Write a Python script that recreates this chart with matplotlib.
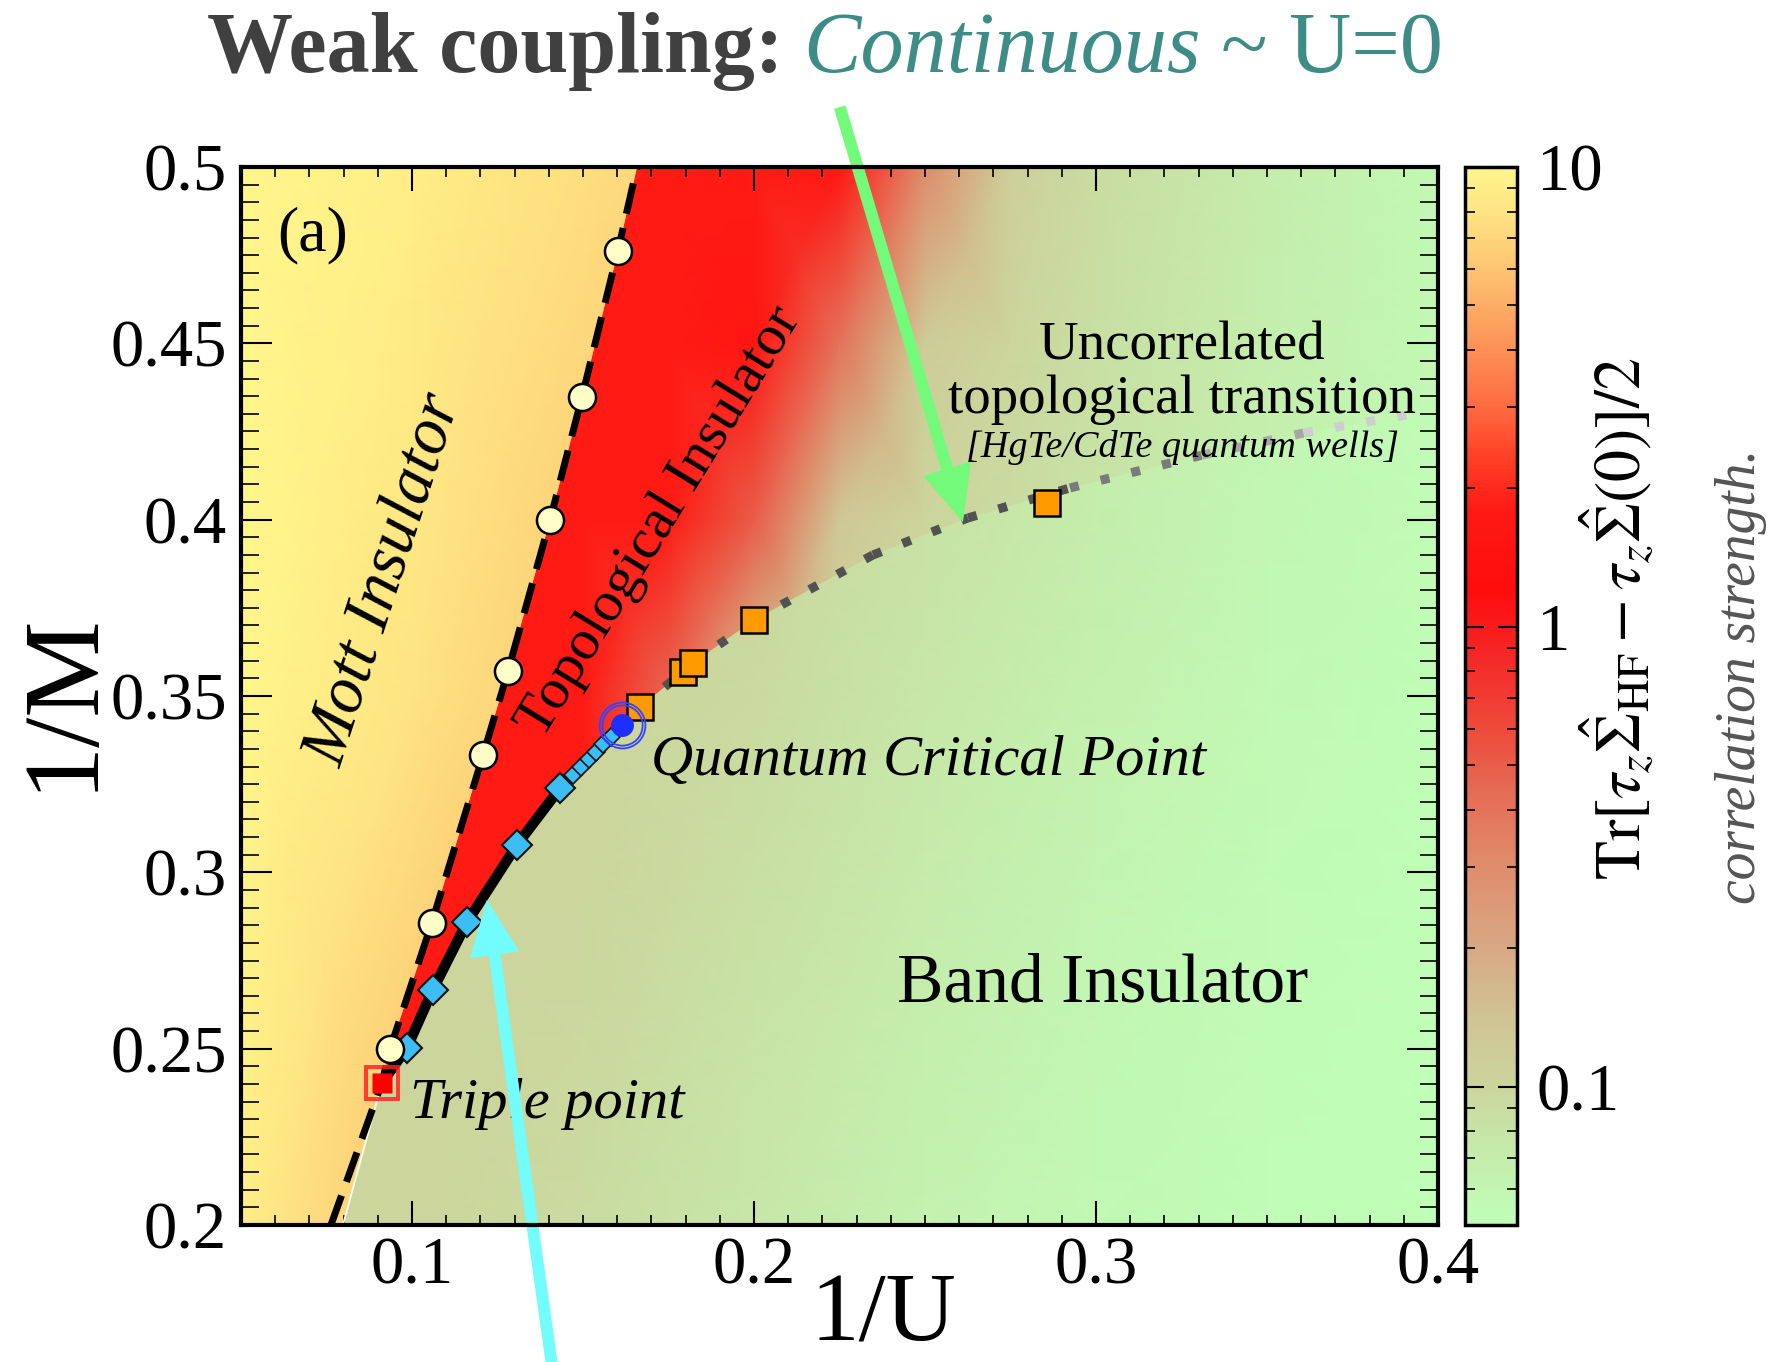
import numpy as np
import matplotlib.pyplot as plt
from matplotlib.colors import LinearSegmentedColormap, LogNorm
from matplotlib.patches import Polygon
from matplotlib.collections import LineCollection
from matplotlib.ticker import MultipleLocator, FuncFormatter
import matplotlib.cm as cm

plt.rcParams['font.family'] = ['Liberation Serif', 'DejaVu Serif']
plt.rcParams['mathtext.fontset'] = 'stix'

# colour scale of the correlation strength (value -> colour)
scale_vals = [0.05, 0.073, 0.1, 0.14, 0.2, 0.31, 0.45, 0.6, 0.86, 1.2, 1.8, 2.4, 3.0, 4.4, 6.0, 8.0, 10.0]
scale_cols = ['#C0FFB8', '#C6EAAA', '#CCD49C', '#D0C494', '#D8A884', '#E08A6A', '#E66852',
              '#EE4A3A', '#F42828', '#FF0C0C', '#FF1A14', '#FF4428', '#FE6A40', '#FC9C5C',
              '#FDC472', '#FEE482', '#FFF68C']

# correlation strength, band insulator side (whole plane)
bi_x = [0.05, 0.10, 0.15, 0.20, 0.25, 0.30, 0.35, 0.40]
bi_y = [0.20, 0.25, 0.30, 0.35, 0.40, 0.45, 0.50]
bi_c = [[0.10, 0.10, 0.090, 0.076, 0.064, 0.056, 0.052, 0.050],
        [0.10, 0.10, 0.095, 0.080, 0.067, 0.058, 0.053, 0.050],
        [0.10, 0.10, 0.100, 0.086, 0.072, 0.061, 0.054, 0.051],
        [0.10, 0.10, 0.100, 0.092, 0.077, 0.065, 0.056, 0.052],
        [0.10, 0.10, 0.100, 0.096, 0.082, 0.069, 0.058, 0.053],
        [0.10, 0.10, 0.100, 0.100, 0.086, 0.072, 0.060, 0.054],
        [0.10, 0.10, 0.100, 0.100, 0.090, 0.075, 0.062, 0.055]]

# topological insulator side
ti_x = [0.075, 0.10, 0.125, 0.15, 0.175, 0.20, 0.225, 0.25, 0.275, 0.30, 0.35, 0.40]
ti_y = [0.20, 0.25, 0.30, 0.35, 0.40, 0.45, 0.50]
ti_c = [[1.8, 1.8, 1.8, 1.8, 0.30, 0.10, 0.090, 0.080, 0.070, 0.060, 0.055, 0.050],
        [1.8, 1.8, 1.8, 1.8, 0.30, 0.10, 0.090, 0.080, 0.070, 0.060, 0.055, 0.050],
        [1.8, 1.8, 1.8, 1.8, 0.50, 0.11, 0.095, 0.085, 0.075, 0.065, 0.056, 0.050],
        [1.8, 1.8, 1.8, 1.8, 0.45, 0.12, 0.100, 0.090, 0.080, 0.070, 0.058, 0.052],
        [1.8, 1.8, 1.8, 1.8, 1.8, 0.50, 0.130, 0.100, 0.090, 0.080, 0.065, 0.055],
        [1.8, 1.8, 1.8, 1.8, 1.8, 1.60, 0.400, 0.120, 0.100, 0.085, 0.068, 0.056],
        [1.8, 1.8, 1.8, 1.8, 1.8, 1.80, 1.700, 0.300, 0.110, 0.090, 0.070, 0.056]]

# Mott insulator side
mott_x = [0.05, 0.10, 0.15, 0.20]
mott_y = [0.20, 0.35, 0.50]
mott_c = [[9.0, 6.0, 4.5, 4.0],
          [10.0, 8.0, 6.3, 5.0],
          [10.0, 9.0, 7.6, 6.5]]

# Mott transition points (1/U, 1/M)
mott_u = [0.0936, 0.1058, 0.1208, 0.1281, 0.1404, 0.1497, 0.1602]
mott_m = [0.2500, 0.2857, 0.3333, 0.3571, 0.4000, 0.4348, 0.4762]
# dashed Mott line
dash_u = [0.0763, 0.0912] + mott_u + [0.1658]
dash_m = [0.2000, 0.2403] + mott_m + [0.5000]
# Mott / band insulator boundary below the triple point
white_u = [0.0798, 0.0912]
white_m = [0.2000, 0.2403]

# first order TI / BI line, triple point -> quantum critical point
fo_big_u = [0.0985, 0.1061, 0.1161, 0.1307, 0.1433]
fo_big_m = [0.2502, 0.2667, 0.2859, 0.3078, 0.3239]
fo_small_u = [0.1471, 0.1494, 0.1518, 0.1538, 0.1558, 0.1582]
fo_small_m = [0.3276, 0.3299, 0.3322, 0.3341, 0.3364, 0.3384]
triple_u, triple_m = 0.0912, 0.2403
qcp_u, qcp_m = 0.1614, 0.3418
fo_u = [triple_u] + fo_big_u + fo_small_u + [qcp_u]
fo_m = [triple_m] + fo_big_m + fo_small_m + [qcp_m]

# uncorrelated topological transition (dotted)
cross_u = [0.1614, 0.1667, 0.1792, 0.1822, 0.2000, 0.2348, 0.2626, 0.2924, 0.3310, 0.3608, 0.3909]
cross_m = [0.3418, 0.3469, 0.3568, 0.3594, 0.3716, 0.3900, 0.4005, 0.4090, 0.4183, 0.4246, 0.4297]
sq_u = [0.1667, 0.1792, 0.1822, 0.2000, 0.2857]
sq_m = [0.3469, 0.3568, 0.3594, 0.3716, 0.4047]

# colormap / norm
norm = LogNorm(vmin=0.05, vmax=10)
lo, hi = np.log10(0.05), np.log10(10)
pos = [(np.log10(v) - lo) / (hi - lo) for v in scale_vals]
cmap = LinearSegmentedColormap.from_list('corr', list(zip(pos, scale_cols)), N=512)

W, H = 1773, 1362
fig = plt.figure(figsize=(W / 100, H / 100), dpi=100)
ax = fig.add_axes([241 / W, 1 - 1225 / H, 1197 / W, 1058 / H])
cax = fig.add_axes([1465 / W, 1 - 1225 / H, 52 / W, 1058 / H])


def layer(xs, ys, vals, clip=None, z=0):
    X, Y = np.meshgrid(xs, ys)
    m = ax.pcolormesh(X, Y, np.array(vals), shading='gouraud', cmap=cmap, norm=norm, zorder=z)
    if clip is not None:
        patch = Polygon(clip, closed=True, transform=ax.transData)
        m.set_clip_path(patch)
    return m


mott_poly = [(0.05, 0.2)] + list(zip(white_u, white_m)) + list(zip(dash_u[2:], dash_m[2:])) + [(0.05, 0.5)]
ti_poly = ([(triple_u, triple_m)] + list(zip(dash_u[2:], dash_m[2:]))
           + [(0.4, 0.5), (0.4, cross_m[-1])]
           + list(zip(cross_u[::-1], cross_m[::-1])) + list(zip(fo_u[::-1], fo_m[::-1])))

layer(bi_x, bi_y, bi_c, z=0)
layer(ti_x, ti_y, ti_c, clip=ti_poly, z=0.1)
layer(mott_x, mott_y, mott_c, clip=mott_poly, z=0.2)

# lines
pts = np.column_stack([cross_u, cross_m])
segs = np.stack([pts[:-1], pts[1:]], axis=1)
xm = 0.5 * (pts[:-1, 0] + pts[1:, 0])
shade = np.clip((xm - 0.28) / 0.11, 0, 1)
seg_cols = [(0.32 + 0.56 * s,) * 3 for s in shade]
ax.add_collection(LineCollection(segs, colors=seg_cols, linewidths=6.5,
                                 linestyles=[(0, (1, 2.5))], zorder=2))
ax.plot(white_u, white_m, color='white', lw=1.3, zorder=2)
ax.plot(fo_u, fo_m, color='black', lw=7.5, solid_capstyle='round', zorder=2.2)
ax.plot(dash_u, dash_m, color='black', lw=5, dashes=(4.5, 2.1), zorder=2.3)

# markers
ax.plot(fo_big_u, fo_big_m, 'D', ms=15.5, mfc='#3CBEF5', mec='#111111', mew=1.5, zorder=3)
ax.plot(fo_small_u, fo_small_m, 'D', ms=9.5, mfc='#3CBEF5', mec='#111111', mew=1.2, zorder=3)
ax.plot(sq_u, sq_m, 's', ms=18.5, mfc='#FF9A00', mec='black', mew=1.8, zorder=3)
ax.plot(mott_u, mott_m, 'o', ms=19.5, mfc='#FFFFC8', mec='black', mew=1.8, zorder=3.2)
ax.plot([qcp_u], [qcp_m], 'o', ms=16.5, mfc='#1E2EFF', mec='none', zorder=3.3)
for s in (33, 29):
    ax.plot([qcp_u], [qcp_m], 'o', ms=s, mfc='none', mec='#3344FF', mew=1.3, zorder=3.3)
ax.plot([triple_u], [triple_m], 's', ms=14, mfc='#FF0000', mec='none', zorder=3.3)
for s in (25, 21):
    ax.plot([triple_u], [triple_m], 's', ms=s, mfc='none', mec='#FF2020', mew=1.2, zorder=3.3)

# text inside the map
ax.text(0.0605, 0.4762, '(a)', fontsize=46, va='baseline', zorder=5)
ax.text(0.092, 0.383, 'Mott Insulator', fontsize=48, style='italic', rotation=72,
        rotation_mode='anchor', ha='center', va='center', zorder=5)
ax.text(0.1725, 0.3993, 'Topological Insulator', fontsize=41.5, rotation=58.5,
        rotation_mode='anchor', ha='center', va='center', zorder=5)
ax.text(0.3252, 0.4453, 'Uncorrelated', fontsize=39.5, ha='center', va='baseline', zorder=5)
ax.text(0.3252, 0.4303, 'topological transition', fontsize=39.5, ha='center', va='baseline', zorder=5)
ax.text(0.3252, 0.4178, '[HgTe/CdTe quantum wells]', fontsize=27.5, style='italic',
        ha='center', va='baseline', zorder=5)
ax.text(0.170, 0.3276, 'Quantum Critical Point', fontsize=42, style='italic', va='baseline', zorder=5)
ax.text(0.0994, 0.2304, 'Triple point', fontsize=42, style='italic', va='baseline', zorder=5)
ax.text(0.3018, 0.2635, 'Band Insulator', fontsize=50, ha='center', va='baseline', zorder=5)

# arrows
arrow_style = 'simple,head_length=2.0,head_width=1.8,tail_width=0.43'
ax.annotate('', xy=(0.2611, 0.3993), xytext=(0.2251, 0.517), annotation_clip=False, zorder=6,
            arrowprops=dict(arrowstyle=arrow_style, mutation_scale=20, color='#74FA7A',
                            lw=0, shrinkA=0, shrinkB=0))
ax.annotate('', xy=(0.1219, 0.2922), xytext=(0.1424, 0.150), annotation_clip=False, zorder=6,
            arrowprops=dict(arrowstyle=arrow_style, mutation_scale=20, color='#72FCFC',
                            lw=0, shrinkA=0, shrinkB=0))

# axes
ax.set_xlim(0.05, 0.4)
ax.set_ylim(0.2, 0.5)
fmt = FuncFormatter(lambda v, p: '%g' % round(v, 3))
ax.xaxis.set_major_locator(MultipleLocator(0.1))
ax.xaxis.set_minor_locator(MultipleLocator(0.01))
ax.yaxis.set_major_locator(MultipleLocator(0.05))
ax.yaxis.set_minor_locator(MultipleLocator(0.005))
ax.xaxis.set_major_formatter(fmt)
ax.yaxis.set_major_formatter(fmt)
ax.tick_params(which='both', direction='in', top=True, right=True, labelsize=48)
ax.tick_params(axis='x', which='major', length=17, width=1.5, pad=8)
ax.tick_params(axis='x', which='minor', length=7, width=1.2)
ax.tick_params(axis='y', which='major', length=22, width=1.5, pad=10)
ax.tick_params(axis='y', which='minor', length=13, width=1.2)
for s in ax.spines.values():
    s.set_linewidth(3)
    s.set_zorder(7)

fig.text(64 / W, 1 - 701 / H, '1/M', fontsize=78, rotation=90, ha='center', va='center')
fig.text(883 / W, 1 - 1340 / H, '1/U', fontsize=70, ha='center', va='baseline')

# colour bar
cb = fig.colorbar(cm.ScalarMappable(norm=norm, cmap=cmap), cax=cax)
cb.set_ticks([0.1, 1, 10], labels=['0.1', '1', '10'])
cb.outline.set_linewidth(2.5)
cax.tick_params(which='both', direction='in', left=True, right=True, labelsize=48, pad=14)
cax.tick_params(which='major', length=14, width=1.5)
cax.tick_params(which='minor', length=7, width=1.2)
fig.text(1617 / W, 1 - 619 / H,
         r'$\mathrm{Tr}[\tau_z\hat{\Sigma}_{\mathrm{HF}}-\tau_z\hat{\Sigma}(0)]/2$',
         fontsize=46, rotation=90, ha='center', va='center')
fig.text(1741 / W, 1 - 676 / H, 'correlation strength.', fontsize=40, style='italic',
         color='#555555', rotation=90, ha='center', va='center')

# title in three colours
r = fig.canvas.get_renderer()
base = 1 - 72 / H
x = 207
t = fig.text(x / W, base, 'Weak coupling:', fontsize=62, fontweight='bold', color='#404040', va='baseline')
x = t.get_window_extent(r).x1 + 20
t = fig.text(x / W, base, 'Continuous', fontsize=62, style='italic', color='#3E8C86', va='baseline')
x = t.get_window_extent(r).x1 + 20
fig.text(x / W, base, '~ U=0', fontsize=62, color='#3E8C86', va='baseline')

fig.savefig('out.png', dpi=100)
